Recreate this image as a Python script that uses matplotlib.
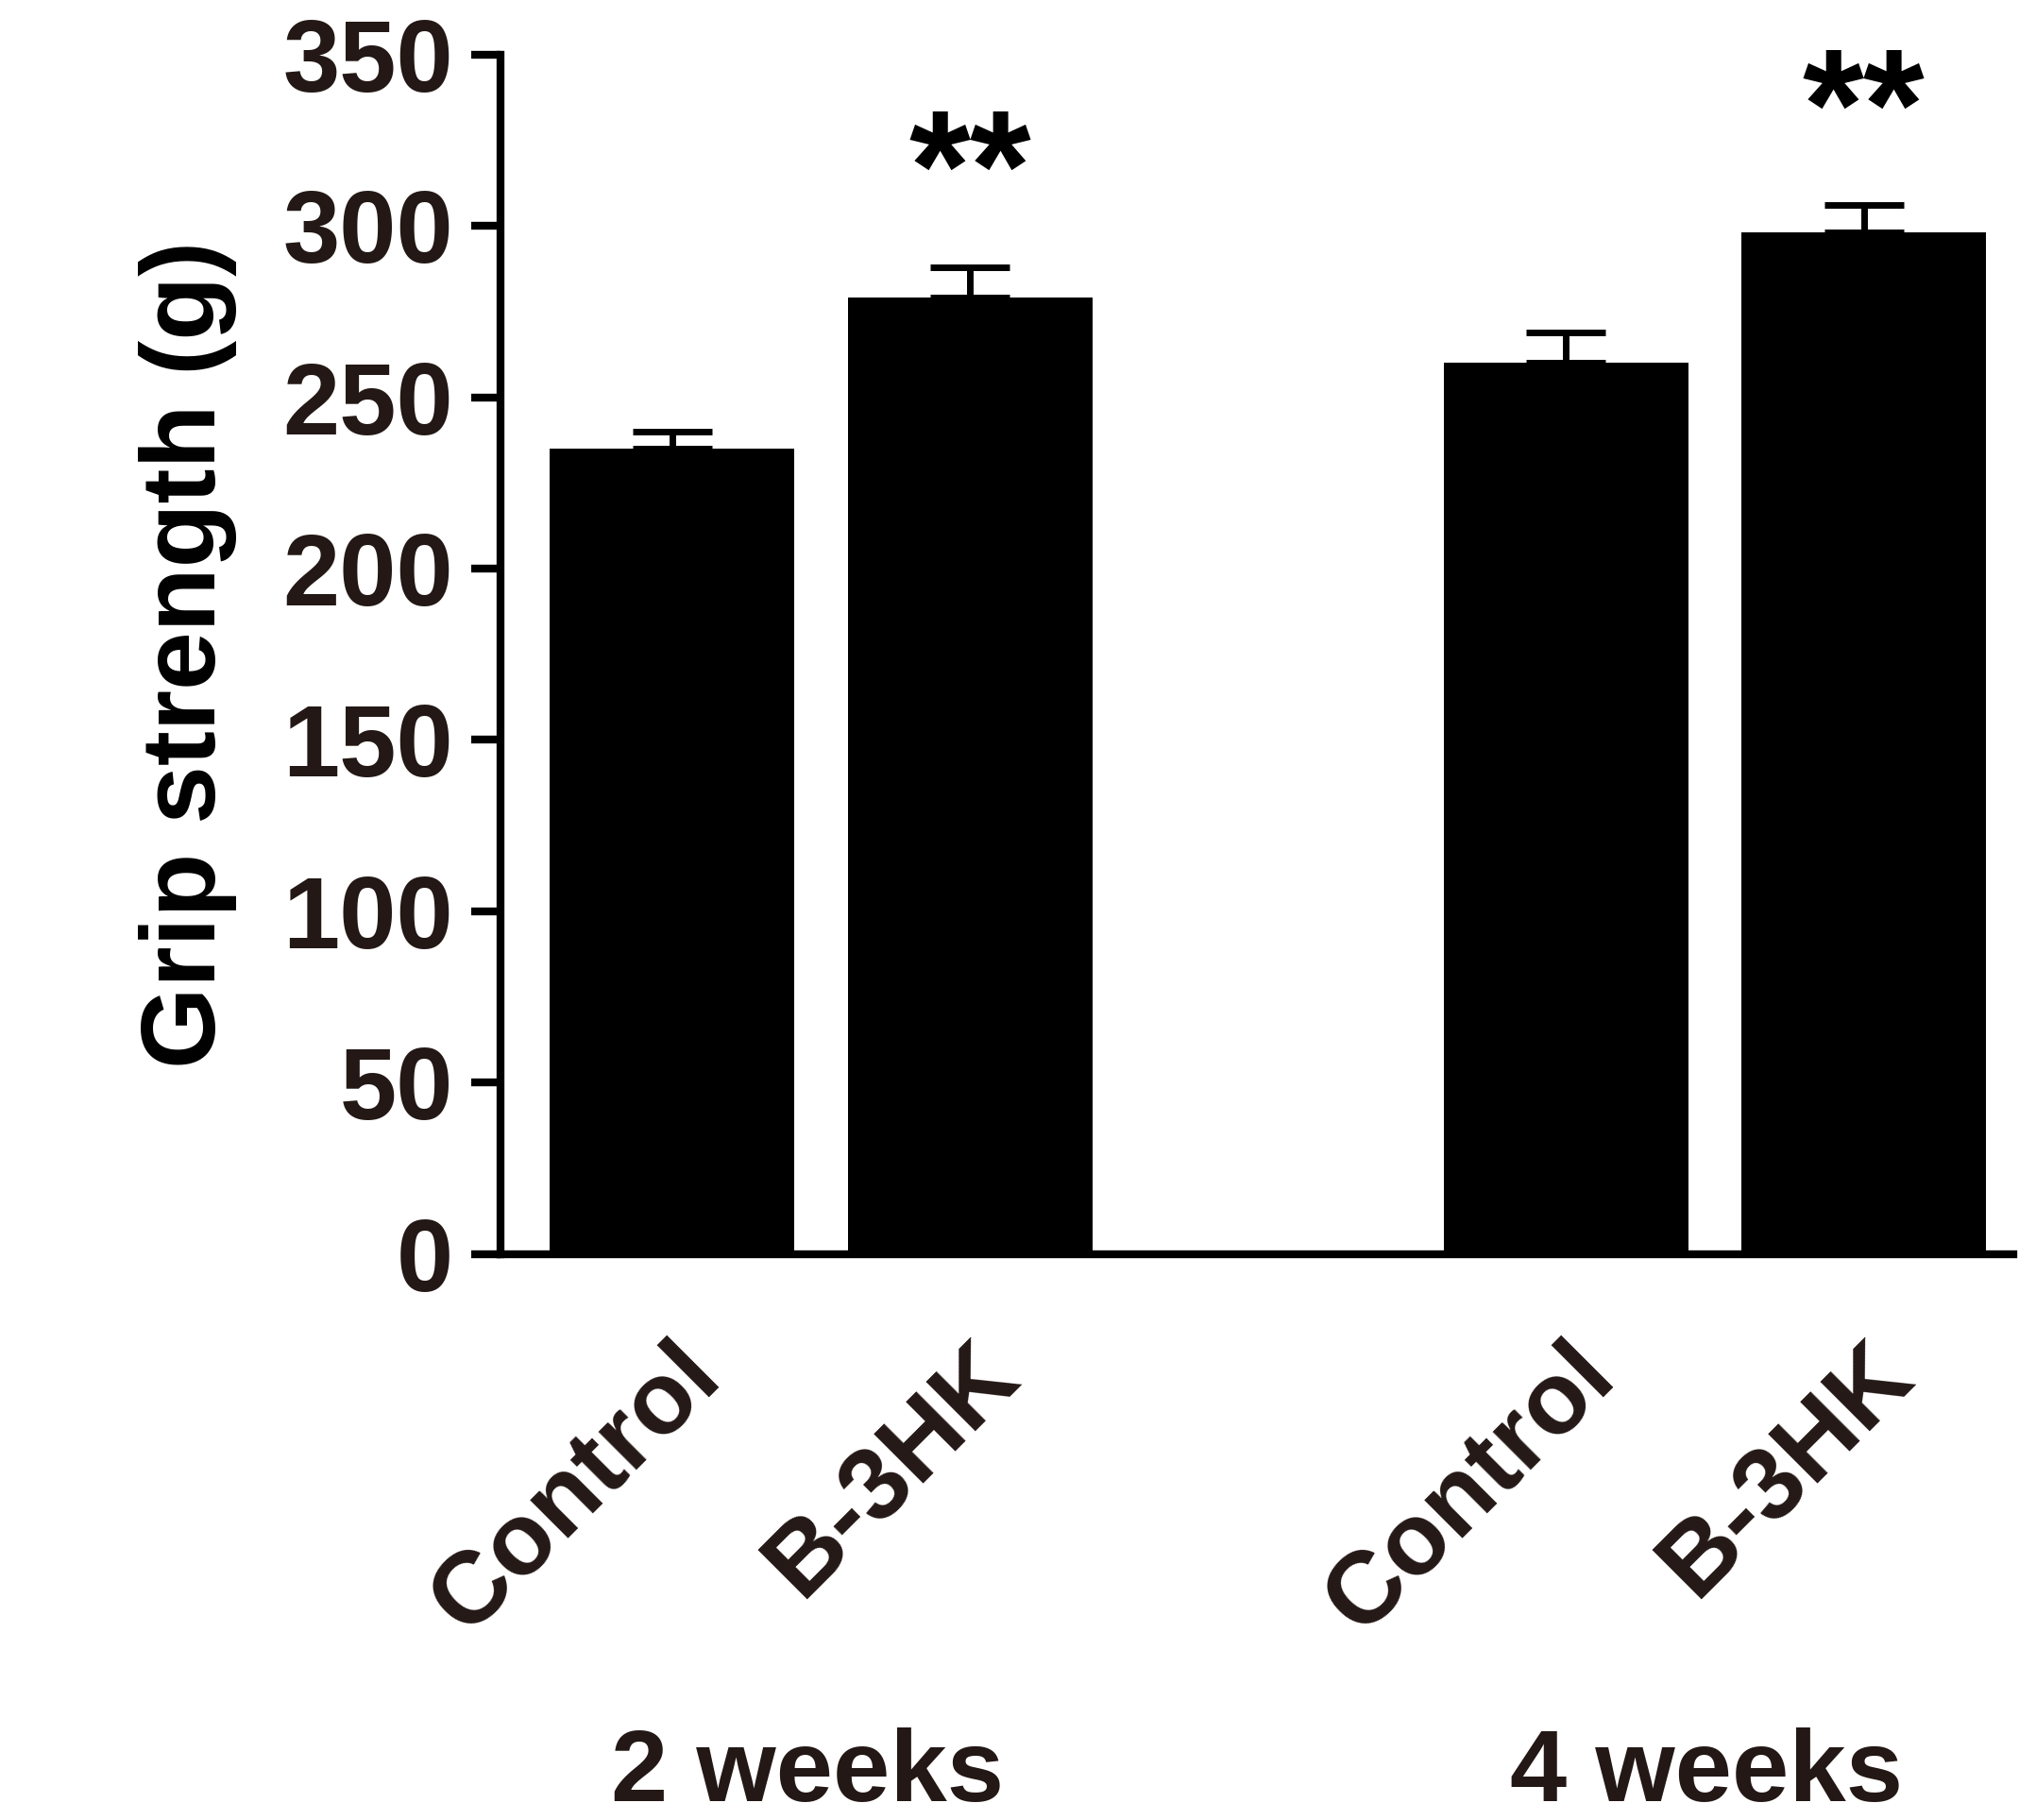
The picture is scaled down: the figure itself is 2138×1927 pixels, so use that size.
import matplotlib
matplotlib.use("Agg")
import matplotlib.pyplot as plt

categories = ["Control", "B-3HK", "Control", "B-3HK"]
positions = [0, 1, 3, 4]
means = [235, 279, 260, 298]
errors = [5, 9, 9, 8]
sig = ["", "**", "", "**"]
groups = ["2 weeks", "4 weeks"]
yticks = [0, 50, 100, 150, 200, 250, 300, 350]

plt.rcParams["font.family"] = "Liberation Sans"
plt.rcParams["font.weight"] = "bold"
fig = plt.figure(figsize=(21.38, 19.27), dpi=100)
ax = fig.add_axes([0.248, 0.311, 0.749, 0.659])
ax.bar(positions, means, width=0.82, color="black")
ax.errorbar(positions, means, yerr=[[0]*4, errors], fmt="none", ecolor="black",
            elinewidth=5, capsize=30, capthick=5)
for p, m, e, s in zip(positions, means, errors, sig):
    if s:
        ax.text(p, m + e + 4, s, ha="center", va="bottom", fontsize=120, fontweight="bold")
ax.set_xlim(-0.575, 4.5)
ax.set_ylim(0, 350)
ax.set_yticks(yticks)
ax.set_yticklabels([str(t) for t in yticks], fontsize=78, fontweight="bold", color="#231815")
ax.set_xticks(positions)
ax.set_xticklabels(categories, rotation=45, ha="right", rotation_mode="anchor",
                   fontsize=78, fontweight="bold", color="#231815")
ax.tick_params(axis="y", width=6, length=22, direction="out", pad=14)
ax.tick_params(axis="x", length=0, pad=55)
for sp in ["top", "right"]:
    ax.spines[sp].set_visible(False)
for sp in ["left", "bottom"]:
    ax.spines[sp].set_linewidth(6)
ax.set_ylabel("Grip strength (g)", fontsize=80, fontweight="bold", labelpad=35)
for fx, g in zip([0.40, 0.845], groups):
    fig.text(fx, 0.025, g, ha="center", va="center",
             fontsize=78, fontweight="bold", color="#231815")
fig.savefig("out.png")
